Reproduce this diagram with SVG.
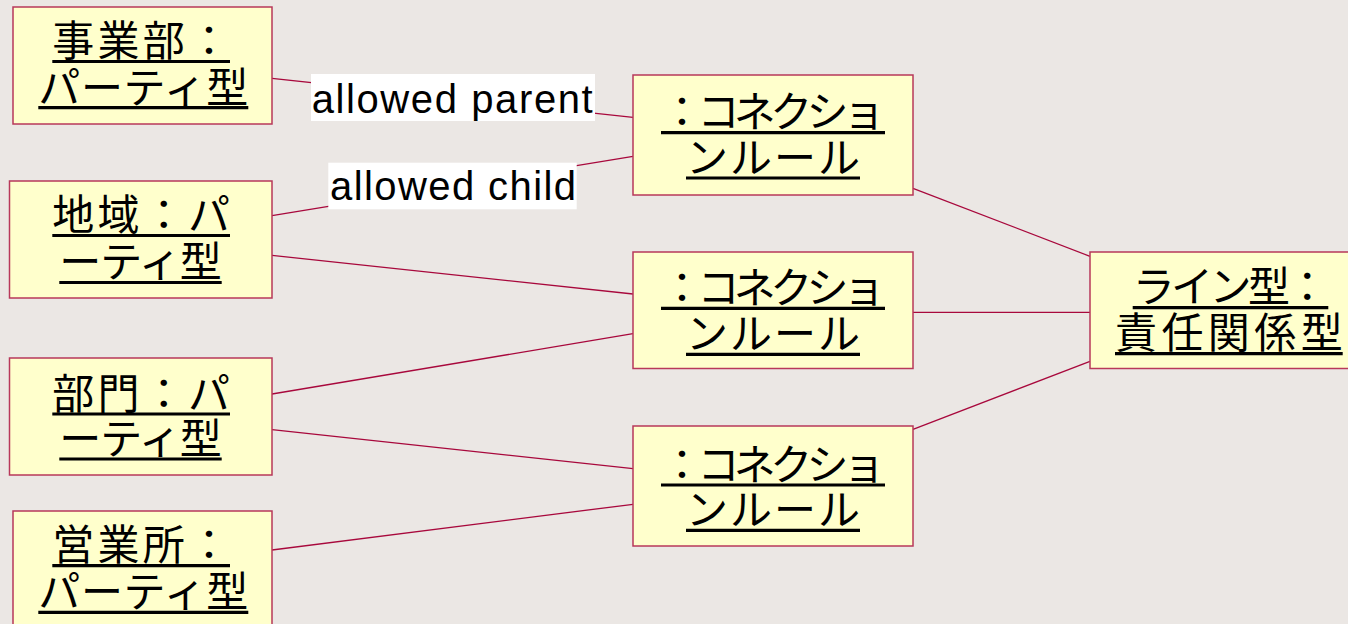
<svg xmlns="http://www.w3.org/2000/svg" width="1348" height="624" viewBox="0 0 1348 624">
  <style>
    .node { fill: #FFFFCC; stroke: #B8385A; stroke-width: 1.5; }
    .t { font-family: "Noto Sans CJK JP", "Noto Sans", sans-serif; font-size: 42px; fill: #000000; }
    .ul { stroke: #000000; stroke-width: 3.2; }
    .edge { stroke: #A8083C; stroke-width: 1.3; fill: none; }
    .lblbg { fill: #FFFFFF; }
    .lbl { font-family: "Liberation Sans", Arial, sans-serif; font-size: 40px; fill: #000000; }
  </style>
  <rect x="0" y="0" width="1348" height="624" fill="#EBE7E4"/>

  <g id="connectors">
    <line class="edge" x1="272" y1="78.3" x2="633" y2="117.3"/>
    <line class="edge" x1="272" y1="215.7" x2="633" y2="156.3"/>
    <line class="edge" x1="272" y1="255.3" x2="633" y2="294"/>
    <line class="edge" x1="272" y1="394" x2="633" y2="333.7"/>
    <line class="edge" x1="272" y1="429.7" x2="633" y2="468.7"/>
    <line class="edge" x1="272" y1="550" x2="633" y2="504.3"/>
    <line class="edge" x1="913" y1="188.3" x2="1090" y2="256.3"/>
    <line class="edge" x1="913" y1="312.3" x2="1090" y2="312.3"/>
    <line class="edge" x1="913" y1="429.3" x2="1090" y2="361.3"/>
    <g id="label-parent">
      <rect class="lblbg" x="311" y="74" width="284" height="47"/>
      <text class="lbl" x="311.7" y="112.7" textLength="281">allowed parent</text>
    </g>
    <g id="label-child">
      <rect class="lblbg" x="328.3" y="162.7" width="248.4" height="46.6"/>
      <text class="lbl" x="330" y="200" textLength="246">allowed child</text>
    </g>
  </g>

  <g id="node-jigyobu">
    <rect class="node" x="13" y="7" width="259" height="117"/>
    <text class="t"><tspan x="52.3" y="56.3" textLength="177.7">事業部：</tspan><tspan x="38.3" y="102.5" textLength="210">パーティ型</tspan></text>
    <line class="ul" x1="52.3" y1="61.5" x2="230" y2="61.5"/>
    <line class="ul" x1="38.3" y1="107.7" x2="248.3" y2="107.7"/>
  </g>
  <g id="node-chiiki">
    <rect class="node" x="9.5" y="181" width="262.5" height="117"/>
    <text class="t"><tspan x="52.3" y="230.2" textLength="177.7">地域：パ</tspan><tspan x="59.3" y="277.2" textLength="162.4">ーティ型</tspan></text>
    <line class="ul" x1="52.3" y1="235.5" x2="230" y2="235.5"/>
    <line class="ul" x1="59.3" y1="282.5" x2="221.7" y2="282.5"/>
  </g>
  <g id="node-bumon">
    <rect class="node" x="9.5" y="358" width="262.5" height="117"/>
    <text class="t"><tspan x="52.3" y="408.7" textLength="177.7">部門：パ</tspan><tspan x="59.3" y="453.7" textLength="162.4">ーティ型</tspan></text>
    <line class="ul" x1="52.3" y1="414" x2="230" y2="414"/>
    <line class="ul" x1="59.3" y1="459" x2="221.7" y2="459"/>
  </g>
  <g id="node-eigyosho">
    <rect class="node" x="13" y="511" width="259" height="117"/>
    <text class="t"><tspan x="52.3" y="560.4" textLength="177.7">営業所：</tspan><tspan x="38.3" y="607" textLength="210">パーティ型</tspan></text>
    <line class="ul" x1="52.3" y1="565.7" x2="230" y2="565.7"/>
    <line class="ul" x1="38.3" y1="612.3" x2="248.3" y2="612.3"/>
  </g>

  <g id="node-rule1">
    <rect class="node" x="633" y="75" width="280" height="120"/>
    <text class="t"><tspan x="661" y="127.4" textLength="224">：コネクショ</tspan><tspan x="686" y="172.7" textLength="174">ンルール</tspan></text>
    <line class="ul" x1="661" y1="132.7" x2="885" y2="132.7"/>
    <line class="ul" x1="686" y1="178" x2="860" y2="178"/>
  </g>
  <g id="node-rule2">
    <rect class="node" x="633" y="252" width="280" height="116.5"/>
    <text class="t"><tspan x="661" y="303" textLength="224">：コネクショ</tspan><tspan x="686" y="349" textLength="174">ンルール</tspan></text>
    <line class="ul" x1="661" y1="308.3" x2="885" y2="308.3"/>
    <line class="ul" x1="686" y1="354.3" x2="860" y2="354.3"/>
  </g>
  <g id="node-rule3">
    <rect class="node" x="633" y="426" width="280" height="120"/>
    <text class="t"><tspan x="661" y="479.7" textLength="224">：コネクショ</tspan><tspan x="686" y="525" textLength="174">ンルール</tspan></text>
    <line class="ul" x1="661" y1="485" x2="885" y2="485"/>
    <line class="ul" x1="686" y1="530.3" x2="860" y2="530.3"/>
  </g>

  <g id="node-line">
    <rect class="node" x="1090" y="252" width="280" height="116.5"/>
    <text class="t"><tspan x="1132.7" y="302.4" textLength="195.6">ライン型：</tspan><tspan x="1115" y="348.4" textLength="227.7">責任関係型</tspan></text>
    <line class="ul" x1="1132.7" y1="307.7" x2="1328.3" y2="307.7"/>
    <line class="ul" x1="1115" y1="353.7" x2="1342.7" y2="353.7"/>
  </g>
</svg>
